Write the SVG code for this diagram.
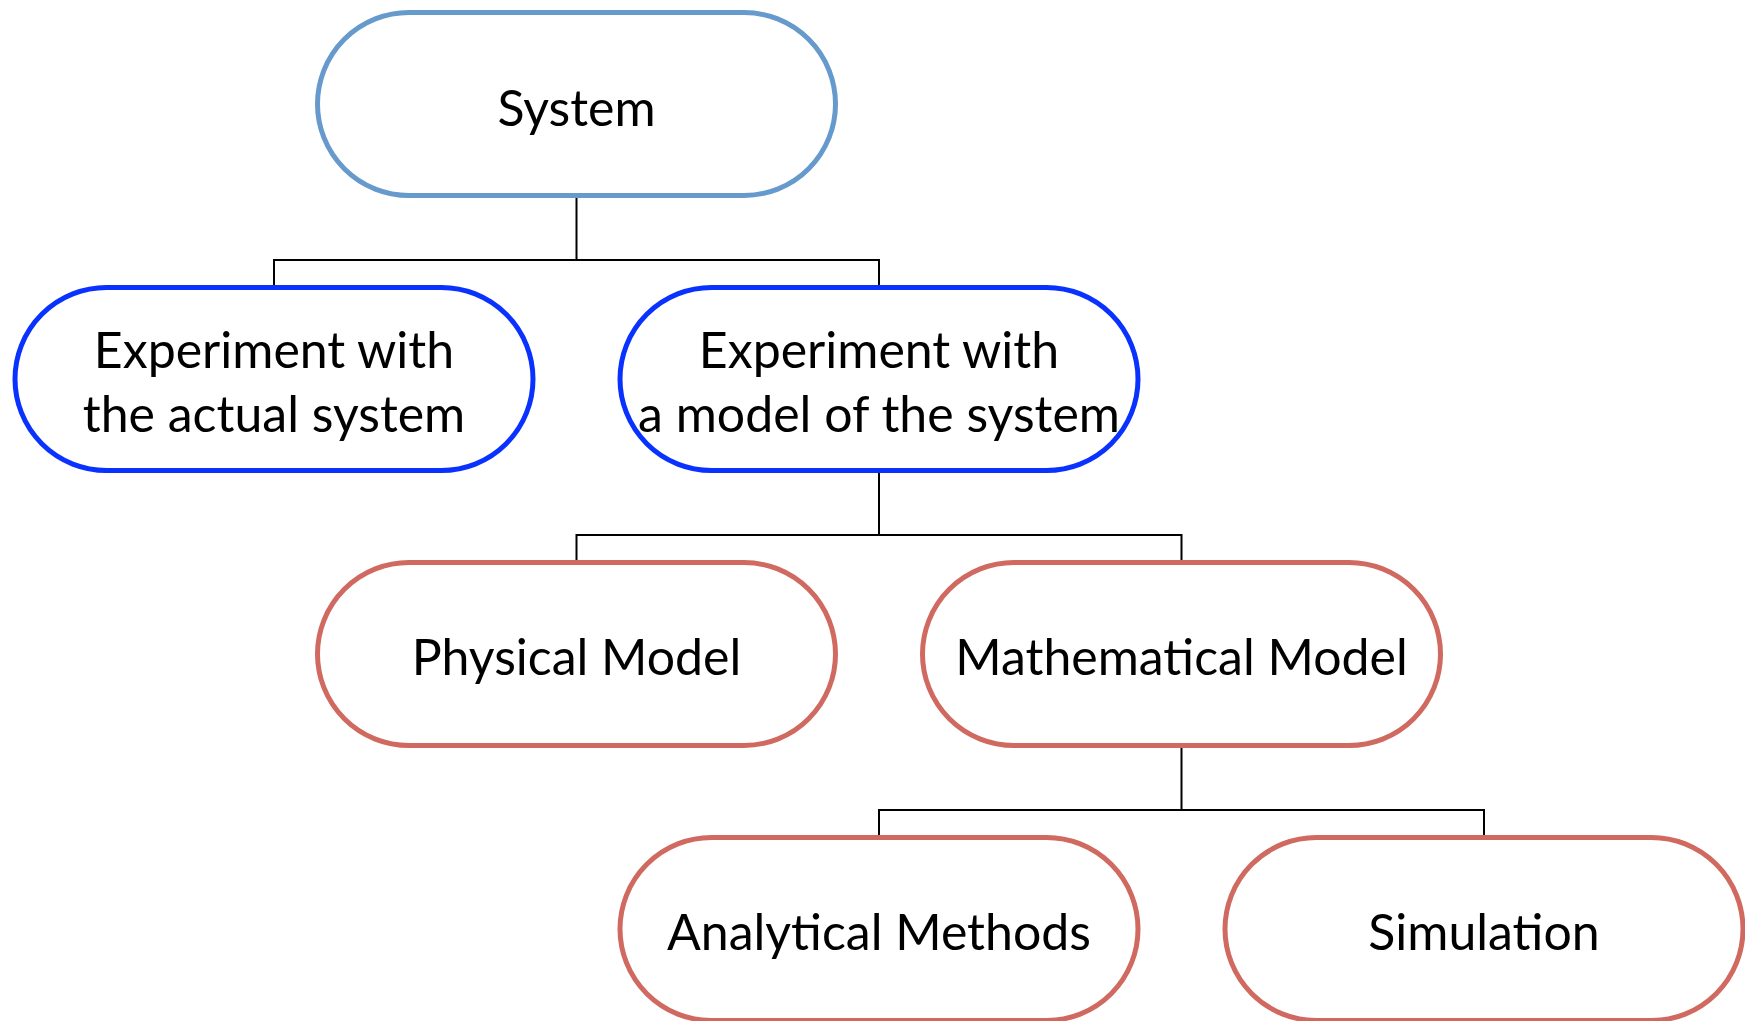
<svg xmlns="http://www.w3.org/2000/svg" width="1745" height="1021" viewBox="0 0 1745 1021">
<style>
.node{fill:#fff;stroke-width:5}
.top{stroke:#6699CC}
.blue{stroke:#0A32FF}
.red{stroke:#D0695F}
.lbl{font-family:Lato,"Open Sans",sans-serif;font-size:50px;fill:#000;text-anchor:middle}
.conn{fill:none;stroke:#000;stroke-width:2}
</style>
<rect width="1745" height="1021" fill="#fff"/>
<g id="connectors">
<path class="conn" d="M576.5 195.5V260M274 287.5V260H879V287.5"/>
<path class="conn" d="M879 470.5V535M576.5 562.5V535H1181.5V562.5"/>
<path class="conn" d="M1181.5 745.5V810M879 837.5V810H1484V837.5"/>
</g>
<g id="system">
<rect class="node top" x="317.5" y="12.5" width="518" height="183" rx="91.5"/>
<text class="lbl" x="576.5" y="126">System</text>
</g>
<g id="exp-actual">
<rect class="node blue" x="15" y="287.5" width="518" height="183" rx="91.5"/>
<text class="lbl" x="274" y="368">Experiment with</text>
<text class="lbl" x="274" y="432">the actual system</text>
</g>
<g id="exp-model">
<rect class="node blue" x="620" y="287.5" width="518" height="183" rx="91.5"/>
<text class="lbl" x="879" y="368">Experiment with</text>
<text class="lbl" x="879" y="432">a model of the system</text>
</g>
<g id="physical">
<rect class="node red" x="317.5" y="562.5" width="518" height="183" rx="91.5"/>
<text class="lbl" x="576.5" y="675">Physical Model</text>
</g>
<g id="mathematical">
<rect class="node red" x="922.5" y="562.5" width="518" height="183" rx="91.5"/>
<text class="lbl" x="1181.5" y="675">Mathematical Model</text>
</g>
<g id="analytical">
<rect class="node red" x="620" y="837.5" width="518" height="183" rx="91.5"/>
<text class="lbl" x="879" y="950">Analytical Methods</text>
</g>
<g id="simulation">
<rect class="node red" x="1225" y="837.5" width="518" height="183" rx="91.5"/>
<text class="lbl" x="1484" y="950">Simulation</text>
</g>
</svg>
